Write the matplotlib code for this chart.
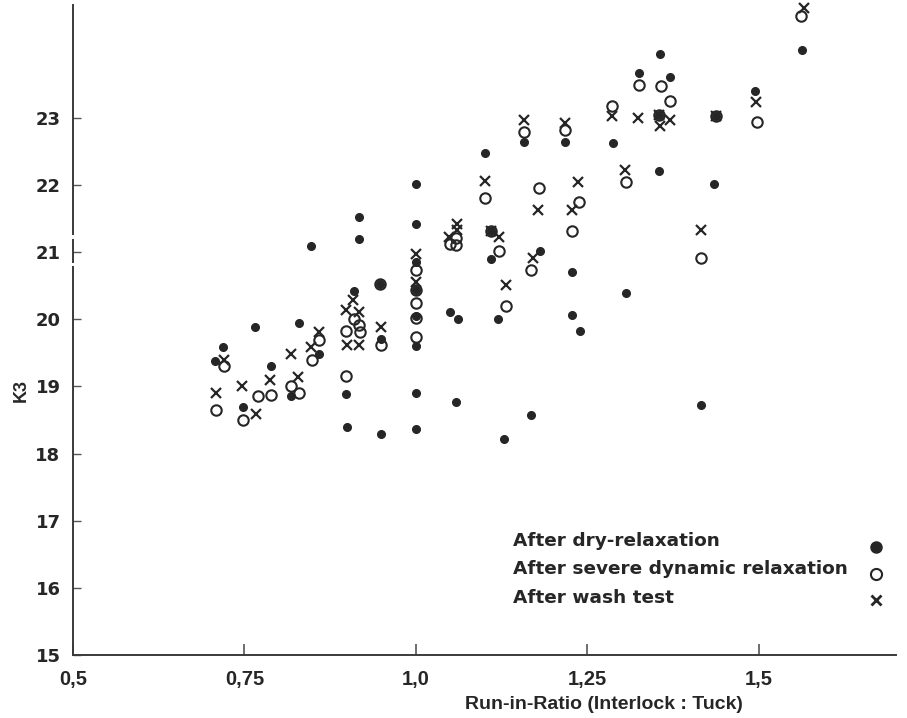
import matplotlib
matplotlib.use("Agg")
import matplotlib.pyplot as plt
import matplotlib.transforms as mtransforms

# ---------------- data ----------------
dry_x = [0.766, 0.829, 0.718, 0.707, 0.788, 0.859, 0.818, 0.748, 0.949, 0.898, 0.900, 0.949,
         0.847, 0.909, 0.917, 0.917, 0.947,
         1.0, 1.0, 1.0, 1.0, 1.0, 1.0, 1.0, 1.0,
         1.049, 1.061, 1.059, 1.120, 1.110, 1.110, 1.101, 1.128, 1.168, 1.181, 1.157, 1.217,
         1.227, 1.227, 1.239, 1.306, 1.287, 1.325, 1.356, 1.370, 1.355, 1.355, 1.435, 1.437,
         1.495, 1.563, 1.416]
dry_y = [19.89, 19.94, 19.59, 19.38, 19.30, 19.49, 18.86, 18.69, 19.71, 18.89, 18.40, 18.29,
         21.09, 20.42, 21.52, 21.20, 20.52,
         22.01, 21.42, 20.86, 20.44, 20.05, 19.60, 18.90, 18.36,
         20.11, 20.01, 18.77, 20.00, 20.90, 21.32, 22.47, 18.21, 18.57, 21.01, 22.64, 22.64,
         20.71, 20.07, 19.82, 20.39, 22.62, 23.66, 23.95, 23.61, 23.04, 22.21, 22.01, 23.03,
         23.40, 24.01, 18.72]

severe_x = [0.720, 0.709, 0.748, 0.770, 0.789, 0.818, 0.830, 0.848, 0.859, 0.898, 0.909, 0.917,
            0.918, 0.898, 0.949, 0.947,
            1.0, 1.0, 1.0, 1.0, 1.0,
            1.049, 1.059, 1.059, 1.110, 1.121, 1.132, 1.101, 1.168, 1.179, 1.228, 1.238, 1.157,
            1.217, 1.286, 1.307, 1.326, 1.357, 1.370, 1.355, 1.437, 1.497, 1.562, 1.415]
severe_y = [19.30, 18.65, 18.50, 18.86, 18.87, 19.00, 18.90, 19.39, 19.69, 19.82, 20.01, 19.91,
            19.81, 19.16, 19.61, 20.52,
            20.74, 20.44, 20.24, 20.02, 19.74,
            21.12, 21.21, 21.11, 21.32, 21.02, 20.20, 21.80, 20.73, 21.96, 21.32, 21.74, 22.79,
            22.82, 23.17, 22.04, 23.49, 23.47, 23.25, 23.04, 23.03, 22.94, 24.52, 20.91]

wash_x = [0.720, 0.709, 0.747, 0.767, 0.787, 0.818, 0.828, 0.847, 0.858, 0.898, 0.917, 0.908,
          0.949, 0.899, 0.917,
          1.0, 1.0,
          1.060, 1.060, 1.048, 1.110, 1.121, 1.101, 1.170, 1.132, 1.178, 1.227, 1.236, 1.157,
          1.217, 1.286, 1.305, 1.324, 1.355, 1.356, 1.370, 1.437, 1.496, 1.566, 1.416]
wash_y = [19.39, 18.90, 19.00, 18.59, 19.10, 19.49, 19.14, 19.59, 19.81, 20.14, 20.11, 20.29,
          19.89, 19.61, 19.62,
          20.97, 20.56,
          21.42, 21.33, 21.22, 21.32, 21.22, 22.06, 20.91, 20.51, 21.62, 21.62, 22.04, 22.97,
          22.92, 23.03, 22.23, 22.99, 23.04, 22.88, 22.96, 23.03, 23.24, 24.63, 21.33]

x_ticks = [0.5, 0.75, 1.0, 1.25, 1.5]
x_tick_labels = ["0,5", "0,75", "1,0", "1,25", "1,5"]
y_ticks = [15, 16, 17, 18, 19, 20, 21, 22, 23]
y_tick_labels = ["15", "16", "17", "18", "19", "20", "21", "22", "23"]
legend_labels = ["After dry-relaxation", "After severe dynamic relaxation", "After wash test"]

# ---------------- figure ----------------
INK = "#262626"
W, H = 907, 718
fig = plt.figure(figsize=(W / 100, H / 100), dpi=100)
ax_l, ax_r, ax_b, ax_t = 73, 896, 655, 5
ax = fig.add_axes([ax_l / W, 1 - ax_b / H, (ax_r - ax_l) / W, (ax_b - ax_t) / H])
ax.set_xlim(0.5, 1.70)
ax.set_ylim(15, 24.68)

for s in ["top", "right"]:
    ax.spines[s].set_visible(False)
for s in ["left", "bottom"]:
    ax.spines[s].set_color("#3a3a3a")
    ax.spines[s].set_linewidth(1.4)

bold = dict(family=["Liberation Sans", "DejaVu Sans"], weight="bold")
wide = dict(family=["DejaVu Sans"], weight="bold")

ax.set_xticks(x_ticks)
ax.set_xticklabels(x_tick_labels, fontsize=14.5, color=INK, **bold)
ax.set_yticks(y_ticks)
ax.set_yticklabels(y_tick_labels, fontsize=13, color=INK, **wide)
ax.tick_params(axis="x", direction="in", length=8, width=1.2, colors="#555555", pad=11)
ax.tick_params(axis="y", direction="in", length=6, width=1.0, colors="#555555", pad=9)
for lab in ax.get_xticklabels() + ax.get_yticklabels():
    lab.set_color(INK)

# axis break marks around 21
trans = mtransforms.blended_transform_factory(ax.transAxes, ax.transData)
for y0, y1 in [(21.20, 21.25), (20.79, 20.84)]:
    ax.plot([0, 0], [y0, y1], color="white", lw=4, transform=trans, clip_on=False,
            zorder=3, solid_capstyle="butt")

# data
ax.plot(dry_x, dry_y, linestyle="none", marker="o", ms=5.5, mfc=INK, mec=INK,
        clip_on=False, zorder=4)
ax.plot(severe_x, severe_y, linestyle="none", marker="o", ms=7.5, mfc="none", mec=INK,
        mew=1.5, clip_on=False, zorder=4)
ax.plot(wash_x, wash_y, linestyle="none", marker="x", ms=7.0, mec=INK, mew=1.6,
        clip_on=False, zorder=4)

# axis labels
ax.set_xlabel("Run-in-Ratio (Interlock : Tuck)", fontsize=14, color=INK, **bold)
ax.xaxis.set_label_coords((604 - ax_l) / (ax_r - ax_l), -(696 - ax_b) / (ax_b - ax_t))
ax.set_ylabel("K3", fontsize=13, color=INK, **bold)
ax.yaxis.set_label_coords(-(ax_l - 30) / (ax_r - ax_l), (ax_b - 390) / (ax_b - ax_t))

# legend (text left aligned, marker at right)
leg_text_y = [541, 569, 598]
leg_mark_y = [547, 574, 600]
styles = [dict(marker="o", ms=8, mfc=INK, mec=INK),
          dict(marker="o", ms=8, mfc="none", mec=INK, mew=1.5),
          dict(marker="x", ms=7, mec=INK, mew=2.0)]
for lab, ty, my, st in zip(legend_labels, leg_text_y, leg_mark_y, styles):
    fig.text(513 / W, 1 - ty / H, lab, ha="left", va="center", fontsize=13.3, color=INK, **wide)
    fig.lines.append(plt.Line2D([876 / W], [1 - my / H], transform=fig.transFigure,
                                linestyle="none", **st))

fig.savefig("out.png", dpi=100, facecolor="white")
